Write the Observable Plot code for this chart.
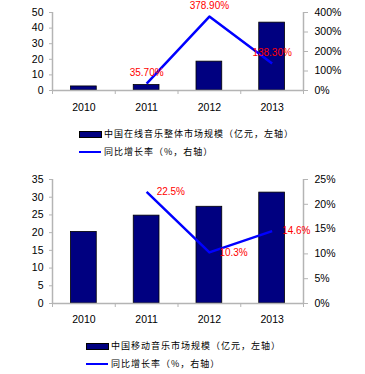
<!DOCTYPE html>
<html>
<head>
<meta charset="utf-8">
<script src="https://cdn.jsdelivr.net/npm/d3@7"></script>
<script src="https://cdn.jsdelivr.net/npm/@observablehq/plot@0.6"></script>
<style>
  html, body { margin: 0; padding: 0; background: #fff; }
  #root { position: relative; width: 365px; height: 374px; overflow: hidden; font-family: "Liberation Sans", Arial, sans-serif; }
  .chart { position: absolute; left: 0; }
  .leg { position: absolute; font-family: "Noto Sans CJK SC", sans-serif; font-size: 9px; letter-spacing: 1px; color: #000; white-space: nowrap; line-height: 12px; }
  .sw { position: absolute; }
</style>
</head>
<body>
<div id="root"></div>
<script>
const years = ["2010", "2011", "2012", "2013"];

// Chart 1: 中国在线音乐整体市场规模
const onlineSize = [2.6, 3.5, 18.5, 43.5];
const onlineGrowth = [null, 35.7, 378.9, 138.3];
const onlineGrowthLabels = ["", "35.70%", "378.90%", "138.30%"];
const onlineLeftTicks = [0, 10, 20, 30, 40, 50];
const onlineRightTicks = [0, 100, 200, 300, 400];
const onlineLegend = ["中国在线音乐整体市场规模（亿元，左轴）", "同比增长率（%，右轴）"];

// Chart 2: 中国移动音乐市场规模
const mobileSize = [20.2, 24.8, 27.3, 31.3];
const mobileGrowth = [null, 22.5, 10.3, 14.6];
const mobileGrowthLabels = ["", "22.5%", "10.3%", "14.6%"];
const mobileLeftTicks = [0, 5, 10, 15, 20, 25, 30, 35];
const mobileRightTicks = [0, 5, 10, 15, 20, 25];
const mobileLegend = ["中国移动音乐市场规模（亿元，左轴）", "同比增长率（%，右轴）"];

const BAR = "#000080", LINE = "#0000ff", AXIS = "#b4b4b4";

function makeChart(o) {
  const leftMax = o.leftTicks[o.leftTicks.length - 1];
  const rightMax = o.rightTicks[o.rightTicks.length - 1];
  const toLeft = v => v / rightMax * leftMax;
  const data = years.map((y, i) => ({
    i, year: y, size: o.size[i],
    g: o.growth[i] == null ? null : toLeft(o.growth[i]),
    label: o.labels[i]
  }));
  const lineData = data.filter(d => d.g != null);
  const labelMarks = o.labelStyle === "above"
    ? Plot.text(lineData, {x: d => d.i + 0.5, y: "g", text: "label", fill: "#ff0000", fontSize: 10, dy: -11, textAnchor: "middle"})
    : Plot.text(lineData, {x: d => d.i + 0.5, y: "g", text: "label", fill: "#ff0000", fontSize: 10, dx: 10, textAnchor: "start"});
  return Plot.plot({
    width: 365,
    height: o.height,
    marginLeft: 52,
    marginRight: 62,
    marginTop: o.marginTop,
    marginBottom: o.marginBottom,
    style: {fontFamily: "Liberation Sans, Arial, sans-serif", fontSize: "10.5px", color: "#000", background: "transparent", overflow: "visible"},
    x: {type: "linear", domain: [0, 4]},
    y: {domain: [0, leftMax]},
    marks: [
      Plot.rectY(data, {x1: d => d.i, x2: d => d.i + 1, y: "size", insetLeft: 18.5, insetRight: 18.5, fill: BAR, stroke: "#000", strokeWidth: 0.8}),
      Plot.ruleX([0, 4], {stroke: AXIS, strokeWidth: 1.5}),
      Plot.ruleY([0], {stroke: AXIS, strokeWidth: 1.5}),
      Plot.axisY(o.leftTicks, {anchor: "left", tickSize: 3, tickPadding: 6, stroke: AXIS, label: null}),
      Plot.axisY(o.rightTicks.map(toLeft), {anchor: "right", tickSize: 4, tickPadding: 7, stroke: AXIS, label: null,
        tickFormat: d => Math.round(d / leftMax * rightMax) + "%"}),
      Plot.axisX([0.5, 1.5, 2.5, 3.5], {tickSize: 0, tickPadding: o.xPad, tickFormat: d => years[Math.floor(d)], label: null}),
      Plot.axisX([0, 1, 2, 3, 4], {tickSize: 4, tickFormat: () => "", stroke: AXIS, label: null}),
      Plot.line(lineData, {x: d => d.i + 0.5, y: "g", stroke: LINE, strokeWidth: 2.5, strokeLinecap: "butt"}),
      labelMarks
    ]
  });
}

const root = document.getElementById("root");

function place(el, top) {
  el.classList.add("chart");
  el.style.top = top + "px";
  root.appendChild(el);
}

function legend(texts, x, y1, y2) {
  const sw = document.createElement("div");
  sw.className = "sw";
  Object.assign(sw.style, {left: x + "px", top: (y1 - 3) + "px", width: "21px", height: "5px", background: BAR, border: "0.5px solid #000"});
  root.appendChild(sw);
  const ln = document.createElement("div");
  ln.className = "sw";
  Object.assign(ln.style, {left: x + "px", top: (y2 - 1) + "px", width: "22px", height: "2px", background: LINE});
  root.appendChild(ln);
  [[texts[0], y1], [texts[1], y2]].forEach(([t, y]) => {
    const d = document.createElement("div");
    d.className = "leg";
    d.textContent = t;
    d.style.left = (x + 25) + "px";
    d.style.top = (y - 6) + "px";
    root.appendChild(d);
  });
}

place(makeChart({size: onlineSize, growth: onlineGrowth, labels: onlineGrowthLabels,
  leftTicks: onlineLeftTicks, rightTicks: onlineRightTicks,
  height: 118, marginTop: 12, marginBottom: 28, xPad: 13, labelStyle: "above"}), 0);
legend(onlineLegend, 79, 134, 152);

place(makeChart({size: mobileSize, growth: mobileGrowth, labels: mobileGrowthLabels,
  leftTicks: mobileLeftTicks, rightTicks: mobileRightTicks,
  height: 170, marginTop: 19, marginBottom: 27, xPad: 12, labelStyle: "right"}), 160);
legend(mobileLegend, 86, 346, 364);
</script>
</body>
</html>
